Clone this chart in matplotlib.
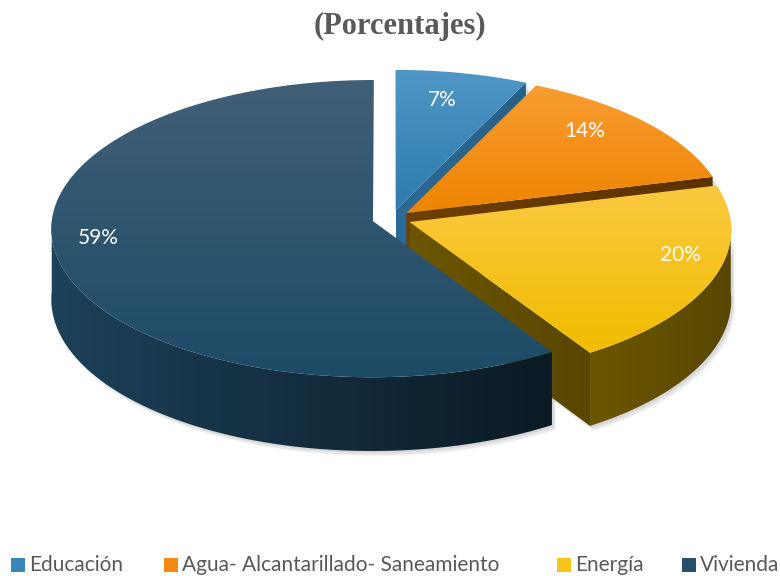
import numpy as np
import matplotlib
matplotlib.use('Agg')
import matplotlib.pyplot as plt
from matplotlib.patches import Polygon, Rectangle
from matplotlib.colors import to_rgb

# datos
categorias = ['Educación', 'Agua- Alcantarillado- Saneamiento', 'Energía', 'Vivienda']
valores = [7, 14, 20, 59]
etiquetas = ['7%', '14%', '20%', '59%']

# colores (arriba/abajo del degradado)
col_tapa = [('#4f97c6', '#2e7baf'), ('#f99d33', '#ee8400'), ('#fbc941', '#f1bc00'), ('#415f77', '#1d4b66')]
col_lado = [('#2c6b95', '#285f86'), ('#6e3f00', '#5c3200'), ('#6b5600', '#594700'), ('#1c4159', '#0b1a24')]
col_leyenda = ['#3a86b9', '#f58a12', '#f8c31b', '#24506c']
pos_etiq = [(442, 100), (585, 131), (680, 255), (98, 238)]

# geometria del pastel 3D (pixeles)
CX, CY = 391.5, 218.7
A, B = 321, 148
S = 0.05      # perspectiva
H = 70        # grosor
EXPL = 0.06   # separacion de porciones


def proj(X, Y, z=0.0):
    f = 1 + S * Y
    return CX + A * X / f, CY - B * Y / f + H * z / f


def rellenar(ax, verts, c1, c2, z, vertical=True):
    verts = np.array(verts)
    poly = Polygon(verts, closed=True, facecolor='none', edgecolor='none', zorder=z)
    ax.add_patch(poly)
    x0, y0 = verts.min(axis=0)
    x1, y1 = verts.max(axis=0)
    t = np.linspace(0, 1, 64)
    c1, c2 = np.array(to_rgb(c1)), np.array(to_rgb(c2))
    g = c1[None, :] * (1 - t[:, None]) + c2[None, :] * t[:, None]
    img = g[:, None, :] if vertical else g[None, :, :]
    im = ax.imshow(img, extent=(x0, x1, y1, y0), origin='upper', aspect='auto',
                   interpolation='bilinear', zorder=z)
    im.set_clip_path(poly)


fig = plt.figure(figsize=(7.8, 5.76), dpi=100)
ax = fig.add_axes([0, 0, 1, 1])
ax.set_axis_off()

fuente = ['Lato', 'DejaVu Sans']
angulos = 3.6 * np.array(valores)
cum = np.concatenate([[0], np.cumsum(angulos)])
z = 1
for i in range(len(valores)):
    t_hi = 90 - cum[i]
    t_lo = t_hi - angulos[i]
    m = np.radians((t_lo + t_hi) / 2)
    ox, oy = EXPL * np.cos(m), EXPL * np.sin(m)

    def borde(t, zz=0.0):
        r = np.radians(t)
        return proj(ox + np.cos(r), oy + np.sin(r), zz)

    caras = []
    # caras radiales visibles
    if np.cos(np.radians(t_lo)) > 1e-6:
        caras.append([proj(ox, oy), borde(t_lo), borde(t_lo, 1), proj(ox, oy, 1)])
    if np.cos(np.radians(t_hi)) < -1e-6:
        caras.append([proj(ox, oy), borde(t_hi), borde(t_hi, 1), proj(ox, oy, 1)])
    # lado curvo visible
    v0, v1 = max(t_lo, -180), min(t_hi, 0)
    lado = None
    if v1 > v0:
        ts = np.linspace(v0, v1, 120)
        lado = [borde(t) for t in ts] + [borde(t, 1) for t in ts[::-1]]

    # sombra suave
    for k, (dx, dy, al) in enumerate([(4, 5, 0.06), (3, 4, 0.08), (2, 2, 0.1)]):
        for c in caras + ([lado] if lado else []):
            sv = np.array(c) + [dx, dy]
            ax.add_patch(Polygon(sv, closed=True, facecolor='#505050', edgecolor='none',
                                 alpha=al, zorder=z))
    z += 1
    for c in caras:
        rellenar(ax, c, col_lado[i][0], col_lado[i][1], z, vertical=False)
        z += 1
    if lado:
        rellenar(ax, lado, col_lado[i][0], col_lado[i][1], z, vertical=False)
        z += 1
    ts = np.linspace(t_lo, t_hi, 200)
    tapa = [proj(ox, oy)] + [borde(t) for t in ts]
    rellenar(ax, tapa, col_tapa[i][0], col_tapa[i][1], z, vertical=True)
    z += 1

for i, (x, y) in enumerate(pos_etiq):
    ax.text(x, y, etiquetas[i], color='white', fontsize=15, family=fuente,
            ha='center', va='center', zorder=z)

ax.text(400, 26, '(Porcentajes)', color='#595959', fontsize=22, fontweight='bold',
        family=['Liberation Serif', 'DejaVu Serif'], ha='center', va='center')

# leyenda
ley_x = [11, 164, 557, 682]
for i, x in enumerate(ley_x):
    ax.add_patch(Rectangle((x, 558), 14, 14, facecolor=col_leyenda[i], edgecolor='none'))
    ax.text(x + 18, 565, categorias[i], color='#595959', fontsize=15, family=fuente,
            ha='left', va='center')

ax.set_xlim(0, 780)
ax.set_ylim(576, 0)
fig.savefig('out.png', dpi=100)
